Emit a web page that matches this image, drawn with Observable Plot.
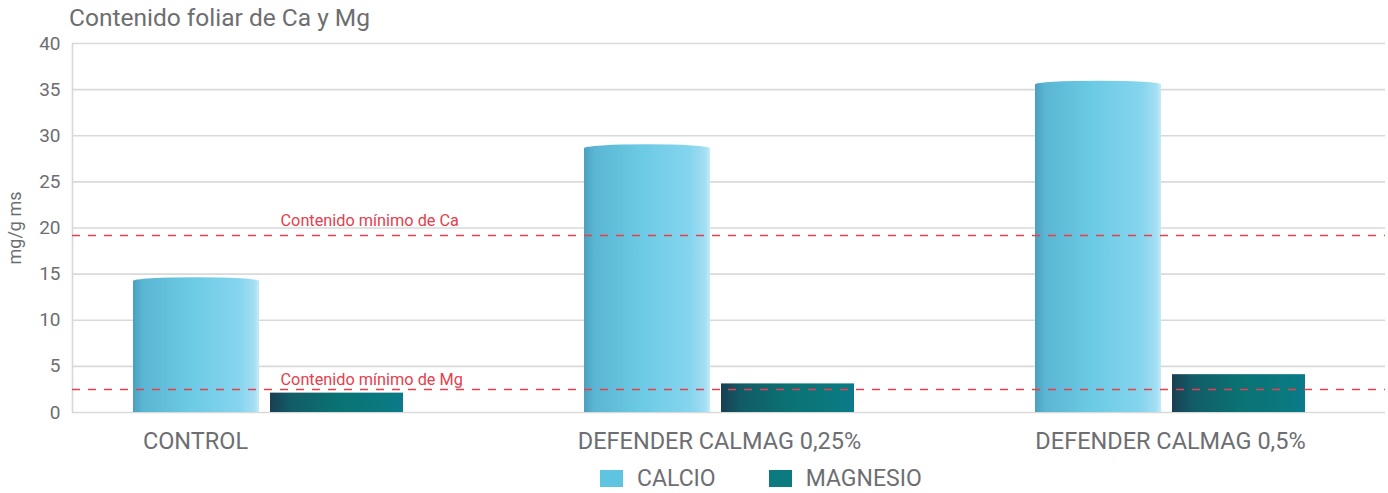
<!DOCTYPE html>
<html>
<head>
<meta charset="utf-8">
<script src="https://cdn.jsdelivr.net/npm/d3@7"></script>
<script src="https://cdn.jsdelivr.net/npm/@observablehq/plot@0.6"></script>
<style>
  html, body { margin: 0; padding: 0; background: #fff; }
  body { width: 1388px; height: 493px; overflow: hidden; font-family: Roboto, "Open Sans", sans-serif; color: #6d6e71; }
  #title { height: 33px; padding-left: 69px; font-size: 24.5px; line-height: 36px; color: #6d6e71; }
  #chart svg { display: block; overflow: visible; }
  #legend { position: absolute; top: 465px; left: 600px; display: flex; align-items: center; font-size: 23px; color: #6d6e71; }
  .item { display: flex; align-items: center; margin-right: 53px; }
  .sw { width: 23px; height: 17px; margin-right: 14px; }
</style>
</head>
<body>
<div id="title">Contenido foliar de Ca y Mg</div>
<div id="chart"></div>
<div id="legend"></div>
<script>
const categories = ["CONTROL", "DEFENDER CALMAG 0,25%", "DEFENDER CALMAG 0,5%"];
const calcio = [14.2, 28.6, 35.5];
const magnesio = [2.1, 3.1, 4.1];
const seriesNames = ["CALCIO", "MAGNESIO"];
const yTicks = [0, 5, 10, 15, 20, 25, 30, 35, 40];
const refValues = [19.2, 2.5];
const refLabels = ["Contenido mínimo de Ca", "Contenido mínimo de Mg"];

const caData = categories.map((c, i) => ({cat: c, value: calcio[i]}));
const mgData = categories.map((c, i) => ({cat: c, value: magnesio[i]}));
const refData = refValues.map((v, i) => ({value: v, label: refLabels[i]}));

const gray = "#6d6e71";
const red = "#e5404d";
const capHalf = 0.42; // half height of the cylinder top, in data units

const plot = Plot.plot({
  width: 1388,
  height: 424,
  marginLeft: 72,
  marginRight: 3,
  marginTop: 10,
  marginBottom: 45,
  style: {fontFamily: "Roboto, 'Open Sans', sans-serif", fontSize: "19px", color: gray, background: "white"},
  x: {type: "band", domain: categories, paddingInner: 0.4013, paddingOuter: 0.1563, align: 0.433, axis: null},
  y: {domain: [0, 40], ticks: yTicks, label: null},
  marks: [
    Plot.gridY(yTicks, {stroke: "#d9d9d9", strokeOpacity: 1, strokeWidth: 1.7}),
    Plot.axisY(yTicks, {tickSize: 0, tickPadding: 12, fontSize: 19, fill: gray, label: null}),
    Plot.axisY([], {tickSize: 0, label: "mg/g ms", labelAnchor: "center", labelArrow: "none", labelOffset: 64, fontSize: 18, fill: gray}),
    Plot.frame({anchor: "left", stroke: "#d9d9d9", strokeWidth: 1.7}),
    Plot.barY(caData, {x: "cat", y: "value", fill: "url(#gradCa)", insetRight: 144}),
    Plot.barY(caData, {x: "cat", y1: d => d.value - capHalf, y2: d => d.value + capHalf, fill: "url(#gradCa)", insetRight: 144, rx: 100, ry: 4}),
    Plot.barY(mgData, {x: "cat", y: "value", fill: "url(#gradMg)", insetLeft: 137}),
    Plot.ruleY([refData[0]], {y: "value", stroke: red, strokeWidth: 1.5, strokeDasharray: "8,8"}),
    Plot.ruleY([refData[1]], {y: "value", stroke: red, strokeWidth: 1.5, strokeDasharray: "8,8"}),
    Plot.text([refData[0]], {x: () => categories[0], y: "value", text: "label", textAnchor: "start", dx: 12, dy: -15, fill: red, fontSize: 16.3}),
    Plot.text([refData[1]], {x: () => categories[0], y: "value", text: "label", textAnchor: "start", dx: 12, dy: -10, fill: red, fontSize: 16.3}),
    Plot.text([categories[0]], {x: d => d, y: () => 0, text: d => d, dy: 29, dx: -73, fontSize: 23.5, fill: gray}),
    Plot.text(categories.slice(1), {x: d => d, y: () => 0, text: d => d, dy: 29, fontSize: 23.5, fill: gray})
  ]
});

// gradient definitions for the cylinder look
const svgNS = "http://www.w3.org/2000/svg";
const defs = document.createElementNS(svgNS, "defs");
function grad(id, stops) {
  const g = document.createElementNS(svgNS, "linearGradient");
  g.setAttribute("id", id);
  g.setAttribute("x1", "0"); g.setAttribute("x2", "1"); g.setAttribute("y1", "0"); g.setAttribute("y2", "0");
  stops.forEach(([o, c]) => {
    const s = document.createElementNS(svgNS, "stop");
    s.setAttribute("offset", o); s.setAttribute("stop-color", c);
    g.appendChild(s);
  });
  defs.appendChild(g);
}
grad("gradCa", [["0", "#4b9fbf"], ["0.08", "#5ab6d3"], ["0.45", "#6bcae4"], ["0.85", "#86d5ee"], ["0.96", "#a3def3"], ["1", "#c4ebf7"]]);
grad("gradMg", [["0", "#1a3f52"], ["0.15", "#125b67"], ["0.5", "#0a7273"], ["0.9", "#0a7a82"], ["1", "#0b7a8c"]]);
plot.insertBefore(defs, plot.firstChild);
document.getElementById("chart").appendChild(plot);

// legend
const legend = document.getElementById("legend");
const legendColors = ["#5fc4df", "#0b7b80"];
seriesNames.forEach((n, i) => {
  const it = document.createElement("div");
  it.className = "item";
  const sw = document.createElement("div");
  sw.className = "sw";
  sw.style.background = legendColors[i];
  const t = document.createElement("span");
  t.textContent = n;
  it.appendChild(sw); it.appendChild(t);
  legend.appendChild(it);
});
</script>
</body>
</html>
